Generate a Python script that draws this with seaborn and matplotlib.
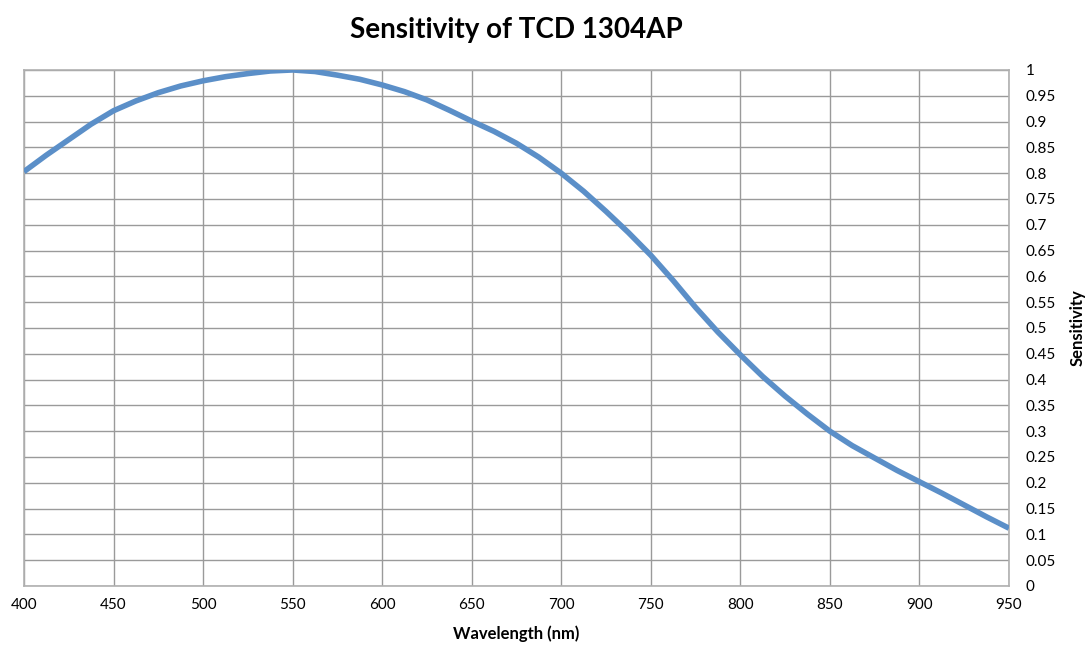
import numpy as np
import pandas as pd
import matplotlib
matplotlib.use("Agg")
import matplotlib.pyplot as plt
import seaborn as sns

# Values (every 12.5 nm)
wavelength = [400, 412.5, 425, 437.5, 450, 462.5, 475, 487.5, 500, 512.5,
              525, 537.5, 550, 562.5, 575, 587.5, 600, 612.5, 625, 637.5,
              650, 662.5, 675, 687.5, 700, 712.5, 725, 737.5, 750, 762.5,
              775, 787.5, 800, 812.5, 825, 837.5, 850, 862.5, 875, 887.5,
              900, 912.5, 925, 937.5, 950]
sensitivity = [0.803, 0.835, 0.865, 0.895, 0.921, 0.940, 0.956, 0.969, 0.979,
               0.987, 0.993, 0.998, 1.000, 0.997, 0.990, 0.982, 0.971, 0.958,
               0.942, 0.922, 0.901, 0.881, 0.858, 0.831, 0.800, 0.765, 0.726,
               0.685, 0.641, 0.592, 0.540, 0.492, 0.448, 0.406, 0.368, 0.333,
               0.300, 0.272, 0.248, 0.224, 0.202, 0.180, 0.157, 0.134, 0.112]
x_ticks = list(range(400, 951, 50))
y_ticks = [round(v * 0.05, 2) for v in range(0, 21)]

df = pd.DataFrame({"Wavelength": wavelength, "Sensitivity": sensitivity})

sns.set_style("white")
plt.rcParams["font.family"] = ["Lato", "DejaVu Sans"]
plt.rcParams["text.color"] = "black"

fig = plt.figure(figsize=(10.89, 6.48), dpi=100)
ax = fig.add_axes([0.022, 0.0957, 0.9045, 0.7963])

sns.lineplot(data=df, x="Wavelength", y="Sensitivity", ax=ax,
             color="#5B8FC8", linewidth=4.0, solid_capstyle="butt",
             solid_joinstyle="round", zorder=3)

ax.set_xlim(400, 950)
ax.set_ylim(0, 1)
ax.set_xticks(x_ticks)
ax.set_yticks(y_ticks)
ax.set_yticklabels([f"{v:g}" for v in y_ticks])
ax.yaxis.tick_right()
ax.yaxis.set_label_position("right")
ax.grid(True, color="#9a9a9a", linewidth=1.0)
for s in ax.spines.values():
    s.set_color("#b0b0b0")
    s.set_linewidth(1.2)
ax.tick_params(axis="both", length=0, labelsize=11, colors="black")
ax.tick_params(axis="x", pad=9)
ax.tick_params(axis="y", pad=12)
for lab in ax.get_yticklabels():
    lab.set_horizontalalignment("left")

ax.set_xlabel("Wavelength (nm)", fontsize=12, fontweight="bold", labelpad=9, color="black")
ax.set_ylabel("Sensitivity", fontsize=12, fontweight="bold", labelpad=10, color="black")
ax.set_title("Sensitivity of TCD 1304AP", fontsize=20, fontweight="bold", pad=23, color="black")

fig.savefig("out.png", dpi=100)
